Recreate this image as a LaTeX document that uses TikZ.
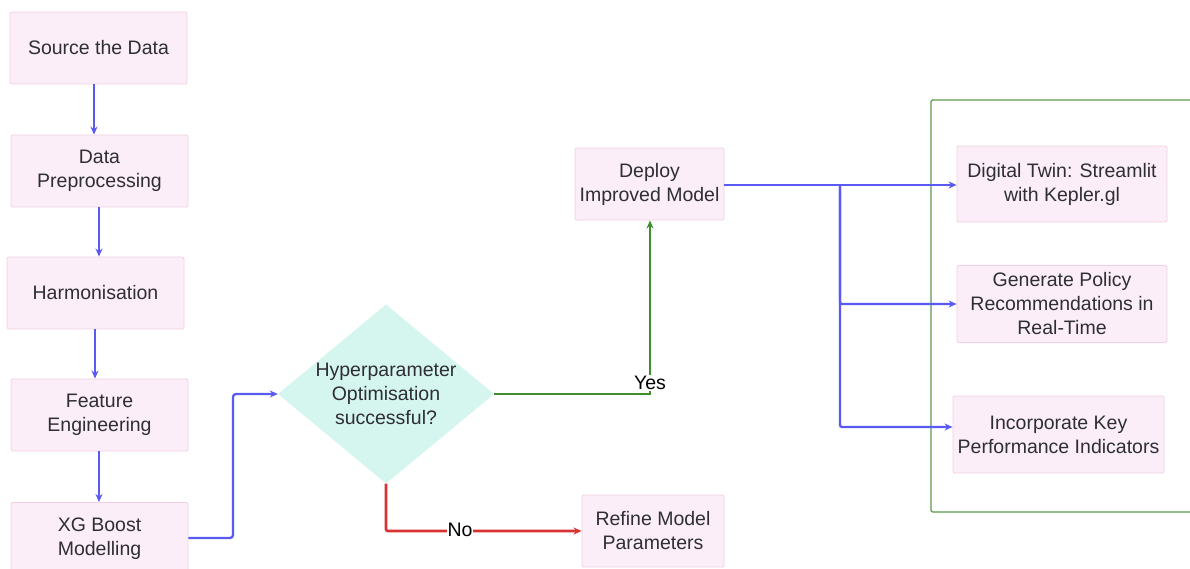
\documentclass[tikz,border=0pt]{standalone}
\usepackage{fontspec}
\setmainfont{Liberation Sans}
\usetikzlibrary{arrows.meta,shapes.geometric}
\definecolor{boxfill}{HTML}{FCEEF8}
\definecolor{boxline}{HTML}{F3CFE3}
\definecolor{diafill}{HTML}{D5F5EF}
\definecolor{flowblue}{HTML}{5A5AF2}
\definecolor{flowgreen}{HTML}{3F8F2F}
\definecolor{flowred}{HTML}{D83232}
\definecolor{txt}{HTML}{2E2E36}
\definecolor{frame}{HTML}{5A9A4A}
\tikzset{
  box/.style={draw=boxline, fill=boxfill, line width=0.9pt, rounded corners=1.5pt,
    text=txt, align=center, font=\fontsize{19.5}{24}\selectfont, inner sep=0pt},
  dia/.style={diamond, draw=none, fill=diafill, text=txt, align=center,
    font=\fontsize{19.5}{24}\selectfont, minimum width=216pt, minimum height=178pt, inner sep=0pt, aspect=1.2},
  bl/.style={draw=flowblue, line width=2.3pt, -{Stealth[length=8pt,width=7pt]}},
  gr/.style={draw=flowgreen, line width=2.7pt, -{Stealth[length=8pt,width=7pt]}},
  rd/.style={draw=flowred, line width=2.7pt, -{Stealth[length=8pt,width=7pt]}},
  lbl/.style={fill=white, text=black, font=\fontsize{19.5}{24}\selectfont, inner sep=1pt}
}
\begin{document}
\begin{tikzpicture}[x=1pt,y=-1pt]
\useasboundingbox (0,0) rectangle (1190,568);
\fill[white] (0,0) rectangle (1190,568);
% container
\draw[frame, line width=1.2pt, rounded corners=1.5pt] (1191,100) -- (931,100) -- (931,512) -- (1191,512);

\node[box, minimum width=177pt, minimum height=72pt] (src) at (98.5,48) {Source the Data};
\node[box, minimum width=177pt, minimum height=72pt] (pre) at (99.5,171) {Data\\Preprocessing};
\node[box, minimum width=177pt, minimum height=72pt] (har) at (95.5,293) {Harmonisation};
\node[box, minimum width=177pt, minimum height=72pt] (fea) at (99.5,415) {Feature\\Engineering};
\node[box, minimum width=177pt, minimum height=72pt, anchor=north] (xgb) at (99.5,502) {XG Boost\\Modelling};

\node[dia] (hyp) at (386,394) {Hyperparameter\\Optimisation\\successful?};

\node[box, minimum width=149pt, minimum height=72pt] (dep) at (649.5,184) {Deploy\\Improved Model};
\node[box, minimum width=142pt, minimum height=72pt] (ref) at (653,531) {Refine Model\\Parameters};

\node[box, minimum width=210pt, minimum height=76pt] (dig) at (1062,184) {Digital Twin: Streamlit\\with Kepler.gl};
\node[box, minimum width=210pt, minimum height=77pt] (gen) at (1062,304) {Generate Policy\\Recommendations in\\Real-Time};
\node[box, minimum width=211pt, minimum height=77pt] (kpi) at (1058.5,434.5) {Incorporate Key\\Performance Indicators};

% left column arrows
\draw[bl] (src.south -| 94,0) -- (pre.north -| 94,0);
\draw[bl] (pre.south -| 99,0) -- (har.north -| 99,0);
\draw[bl] (har.south -| 95,0) -- (fea.north -| 95,0);
\draw[bl] (fea.south -| 99,0) -- (xgb.north -| 99,0);

% XGB to diamond
\draw[bl, rounded corners=3pt] (xgb.east |- 0,538) -- (233,538) -- (233,394) -- (hyp.west);

% Yes
\coordinate (yc) at (650,394);
\draw[gr] (hyp.east) -- (yc) -- (dep.south -| yc);
\node[lbl] (yes) at (650,383) {Yes};

% No
\coordinate (nc) at (386,531);
\draw[rd, rounded corners=2pt] (hyp.south) -- (nc) -- (ref.west |- nc);
\node[lbl] (no) at (460,530) {No};

% deploy outputs
\coordinate (br) at (840,185);
\draw[bl] (dep.east |- br) -- (dig.west |- br);
\draw[bl, rounded corners=2pt] (br) -- (840,304) -- (gen.west |- 0,304);
\draw[bl, rounded corners=2pt] (br) -- (840,427) -- (kpi.west |- 0,427);
\end{tikzpicture}
\end{document}
